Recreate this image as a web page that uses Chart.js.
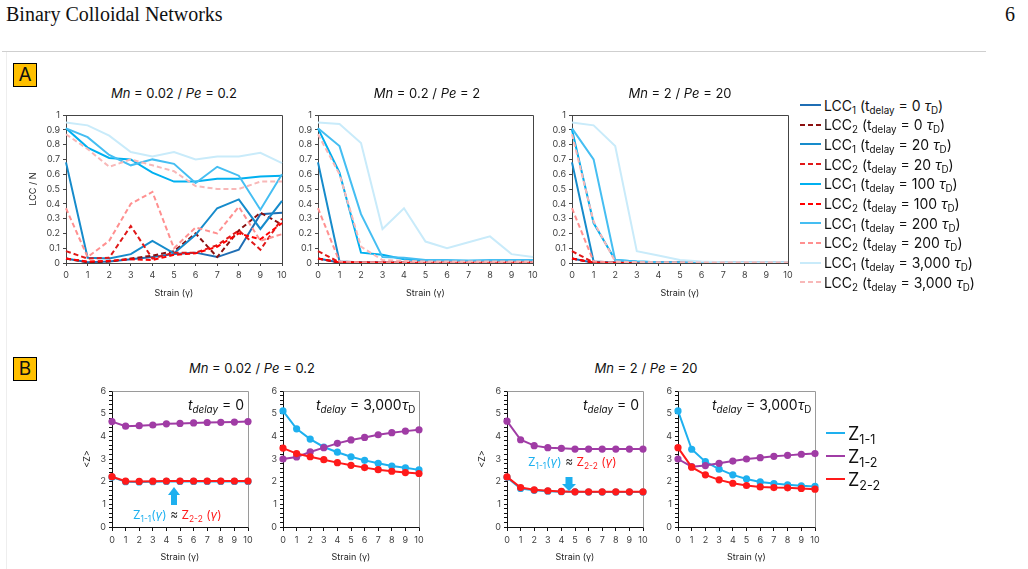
<!DOCTYPE html>
<html lang="en">
<head>
<meta charset="UTF-8">
<title>Binary Colloidal Networks</title>
<script src="https://cdn.jsdelivr.net/npm/chart.js"></script>
<style>
  html, body { margin: 0; padding: 0; background: #fff; }
  body { position: relative; width: 1028px; height: 569px; overflow: hidden;
         font-family: Inter, "Open Sans", sans-serif; color: #111; }
  .abs { position: absolute; z-index: 2; }
  .serif { font-family: "Liberation Serif", "Times New Roman", serif; font-size: 20px; line-height: 24px; }
  .tag { width: 22px; height: 22px; border: 1px solid #000; background: #FFC000;
         font-size: 19px; line-height: 22px; text-align: center; }
  .title { font-size: 13px; line-height: 16px; white-space: nowrap; transform: translateX(-50%); }
  .note { font-size: 14px; line-height: 18px; white-space: nowrap; }
  .approx { font-size: 12px; line-height: 16px; white-space: nowrap; }
  sub { font-size: 0.7em; vertical-align: -0.3em; line-height: 0; }
  .row { position: absolute; display: flex; align-items: center; white-space: nowrap; height: 20px; z-index: 2; }
  canvas { position: absolute; z-index: 1; }
</style>
</head>
<body>
<div class="abs serif" style="left:6px; top:2px">Binary Colloidal Networks</div>
<div class="abs serif" style="left:1005px; top:2px">6</div>
<div class="abs" style="left:2px; top:51px; width:984px; height:1px; background:#cfcfcf"></div>
<div class="abs" style="left:6px; top:52px; width:1px; height:517px; background:#eeeeee"></div>

<div class="abs tag" style="left:13px; top:63px">A</div>
<div class="abs tag" style="left:13px; top:357px">B</div>

<div class="abs title" style="left:174px; top:85px"><i>Mn</i> = 0.02 / <i>Pe</i> = 0.2</div>
<div class="abs title" style="left:427px; top:85px"><i>Mn</i> = 0.2 / <i>Pe</i> = 2</div>
<div class="abs title" style="left:680px; top:85px"><i>Mn</i> = 2 / <i>Pe</i> = 20</div>
<div class="abs title" style="left:252px; top:360px"><i>Mn</i> = 0.02 / <i>Pe</i> = 0.2</div>
<div class="abs title" style="left:646px; top:360px"><i>Mn</i> = 2 / <i>Pe</i> = 20</div>

<div class="abs note" style="left:188px; top:396px"><i>t</i><sub><i>delay</i></sub> = 0</div>
<div class="abs note" style="left:316px; top:396px"><i>t</i><sub><i>delay</i></sub> = 3,000<i>τ</i><sub>D</sub></div>
<div class="abs note" style="left:583px; top:396px"><i>t</i><sub><i>delay</i></sub> = 0</div>
<div class="abs note" style="left:712px; top:396px"><i>t</i><sub><i>delay</i></sub> = 3,000<i>τ</i><sub>D</sub></div>

<div class="abs approx" style="left:133px; top:507px"><span style="color:#1EB0EF">Z<sub>1-1</sub>(<i>γ</i>)</span> <span style="color:#333">≈</span> <span style="color:#FF1A1A">Z<sub>2-2</sub> (<i>γ</i>)</span></div>
<div class="abs approx" style="left:528px; top:454px"><span style="color:#1EB0EF">Z<sub>1-1</sub>(<i>γ</i>)</span> <span style="color:#333">≈</span> <span style="color:#FF1A1A">Z<sub>2-2</sub> (<i>γ</i>)</span></div>

<svg class="abs" style="left:167px; top:487px" width="14" height="19">
  <polygon points="7,0 13,8 10,8 10,18 4,18 4,8 1,8" fill="#1EB0EF"/>
</svg>
<svg class="abs" style="left:562px; top:477px" width="14" height="14">
  <polygon points="3.5,0 10.5,0 10.5,7 14,7 7,14 0,7 3.5,7" fill="#1EB0EF"/>
</svg>

<script>
// strain axis
const STRAIN = [0, 1, 2, 3, 4, 5, 6, 7, 8, 9, 10];

// Panel A, Mn = 0.02 / Pe = 0.2
const A1_LCC1_T0    = [0.03, 0.005, 0.01, 0.025, 0.04, 0.06, 0.07, 0.04, 0.09, 0.33, 0.34];
const A1_LCC2_T0    = [0.03, 0.005, 0.01, 0.03, 0.05, 0.08, 0.20, 0.04, 0.22, 0.34, 0.26];
const A1_LCC1_T20   = [0.68, 0.035, 0.03, 0.06, 0.15, 0.065, 0.19, 0.37, 0.43, 0.23, 0.42];
const A1_LCC2_T20   = [0.08, 0.03, 0.035, 0.25, 0.03, 0.07, 0.07, 0.12, 0.22, 0.09, 0.30];
const A1_LCC1_T100  = [0.91, 0.78, 0.71, 0.70, 0.61, 0.55, 0.55, 0.57, 0.57, 0.585, 0.59];
const A1_LCC2_T100  = [0.03, 0.01, 0.015, 0.025, 0.02, 0.055, 0.065, 0.11, 0.20, 0.16, 0.27];
const A1_LCC1_T200  = [0.91, 0.85, 0.73, 0.66, 0.70, 0.67, 0.54, 0.65, 0.59, 0.36, 0.60];
const A1_LCC2_T200  = [0.37, 0.04, 0.15, 0.40, 0.48, 0.10, 0.24, 0.20, 0.38, 0.15, 0.195];
const A1_LCC1_T3000 = [0.95, 0.93, 0.86, 0.75, 0.72, 0.75, 0.70, 0.72, 0.72, 0.745, 0.675];
const A1_LCC2_T3000 = [0.87, 0.77, 0.65, 0.70, 0.66, 0.62, 0.52, 0.50, 0.50, 0.55, 0.55];

// Panel A, Mn = 0.2 / Pe = 2
const A2_LCC1_T0    = [0.03, 0.003, 0.002, 0.002, 0.002, 0.002, 0.002, 0.002, 0.002, 0.002, 0.002];
const A2_LCC2_T0    = [0.03, 0.002, 0.002, 0.002, 0.002, 0.002, 0.002, 0.002, 0.002, 0.002, 0.002];
const A2_LCC1_T20   = [0.68, 0.01, 0.005, 0.005, 0.005, 0.005, 0.005, 0.005, 0.005, 0.005, 0.005];
const A2_LCC2_T20   = [0.08, 0.005, 0.004, 0.004, 0.004, 0.004, 0.004, 0.004, 0.004, 0.004, 0.004];
const A2_LCC1_T100  = [0.91, 0.61, 0.07, 0.055, 0.025, 0.015, 0.015, 0.015, 0.015, 0.015, 0.02];
const A2_LCC2_T100  = [0.03, 0.005, 0.004, 0.004, 0.004, 0.004, 0.004, 0.004, 0.004, 0.004, 0.004];
const A2_LCC1_T200  = [0.91, 0.79, 0.33, 0.04, 0.035, 0.02, 0.02, 0.015, 0.02, 0.02, 0.02];
const A2_LCC2_T200  = [0.37, 0.01, 0.005, 0.005, 0.005, 0.005, 0.005, 0.005, 0.005, 0.005, 0.005];
const A2_LCC1_T3000 = [0.95, 0.94, 0.81, 0.23, 0.37, 0.145, 0.10, 0.14, 0.18, 0.06, 0.04];
const A2_LCC2_T3000 = [0.87, 0.60, 0.11, 0.02, 0.015, 0.01, 0.01, 0.01, 0.01, 0.01, 0.01];

// Panel A, Mn = 2 / Pe = 20
const A3_LCC1_T0    = [0.03, 0.002, 0.002, 0.002, 0.002, 0.002, 0.002, 0.002, 0.002, 0.002, 0.002];
const A3_LCC2_T0    = [0.03, 0.002, 0.002, 0.002, 0.002, 0.002, 0.002, 0.002, 0.002, 0.002, 0.002];
const A3_LCC1_T20   = [0.68, 0.01, 0.003, 0.003, 0.003, 0.003, 0.003, 0.003, 0.003, 0.003, 0.003];
const A3_LCC2_T20   = [0.08, 0.003, 0.002, 0.002, 0.002, 0.002, 0.002, 0.002, 0.002, 0.002, 0.002];
const A3_LCC1_T100  = [0.90, 0.27, 0.02, 0.01, 0.005, 0.005, 0.003, 0.003, 0.003, 0.003, 0.003];
const A3_LCC2_T100  = [0.03, 0.003, 0.002, 0.002, 0.002, 0.002, 0.002, 0.002, 0.002, 0.002, 0.002];
const A3_LCC1_T200  = [0.91, 0.70, 0.02, 0.01, 0.005, 0.005, 0.003, 0.003, 0.003, 0.003, 0.003];
const A3_LCC2_T200  = [0.37, 0.01, 0.003, 0.003, 0.003, 0.003, 0.003, 0.003, 0.003, 0.003, 0.003];
const A3_LCC1_T3000 = [0.95, 0.93, 0.79, 0.08, 0.05, 0.02, 0.01, 0.005, 0.005, 0.005, 0.005];
const A3_LCC2_T3000 = [0.87, 0.28, 0.01, 0.005, 0.004, 0.004, 0.004, 0.004, 0.004, 0.004, 0.004];

// Panel B, Mn = 0.02 / Pe = 0.2
const B1_Z11 = [2.20, 2.00, 1.99, 2.00, 2.01, 2.01, 2.01, 2.01, 2.01, 2.01, 2.01];
const B1_Z12 = [4.65, 4.45, 4.47, 4.50, 4.55, 4.57, 4.59, 4.61, 4.62, 4.63, 4.65];
const B1_Z22 = [2.22, 2.02, 2.01, 2.02, 2.03, 2.03, 2.03, 2.03, 2.03, 2.03, 2.03];
const B2_Z11 = [5.12, 4.33, 3.88, 3.53, 3.30, 3.10, 2.94, 2.81, 2.69, 2.61, 2.52];
const B2_Z12 = [3.00, 3.09, 3.31, 3.50, 3.69, 3.84, 3.95, 4.07, 4.16, 4.23, 4.29];
const B2_Z22 = [3.48, 3.24, 3.10, 2.97, 2.84, 2.72, 2.62, 2.53, 2.46, 2.40, 2.36];

// Panel B, Mn = 2 / Pe = 20
const B3_Z11 = [2.19, 1.70, 1.62, 1.58, 1.56, 1.55, 1.54, 1.54, 1.54, 1.54, 1.54];
const B3_Z12 = [4.67, 3.85, 3.59, 3.50, 3.47, 3.44, 3.44, 3.44, 3.44, 3.44, 3.44];
const B3_Z22 = [2.21, 1.74, 1.64, 1.60, 1.57, 1.55, 1.55, 1.55, 1.55, 1.55, 1.55];
const B4_Z11 = [5.12, 3.43, 2.88, 2.55, 2.30, 2.12, 1.99, 1.92, 1.86, 1.82, 1.79];
const B4_Z12 = [3.00, 2.66, 2.71, 2.81, 2.91, 3.00, 3.06, 3.12, 3.16, 3.21, 3.24];
const B4_Z22 = [3.50, 2.64, 2.30, 2.08, 1.93, 1.83, 1.77, 1.74, 1.73, 1.70, 1.67];

// legend labels
const A_LABELS = [
  'LCC<sub>1</sub> (t<sub>delay</sub> = 0 <i>τ</i><sub>D</sub>)',
  'LCC<sub>2</sub> (t<sub>delay</sub> = 0 <i>τ</i><sub>D</sub>)',
  'LCC<sub>1</sub> (t<sub>delay</sub> = 20 <i>τ</i><sub>D</sub>)',
  'LCC<sub>2</sub> (t<sub>delay</sub> = 20 <i>τ</i><sub>D</sub>)',
  'LCC<sub>1</sub> (t<sub>delay</sub> = 100 <i>τ</i><sub>D</sub>)',
  'LCC<sub>2</sub> (t<sub>delay</sub> = 100 <i>τ</i><sub>D</sub>)',
  'LCC<sub>1</sub> (t<sub>delay</sub> = 200 <i>τ</i><sub>D</sub>)',
  'LCC<sub>2</sub> (t<sub>delay</sub> = 200 <i>τ</i><sub>D</sub>)',
  'LCC<sub>1</sub> (t<sub>delay</sub> = 3,000 <i>τ</i><sub>D</sub>)',
  'LCC<sub>2</sub> (t<sub>delay</sub> = 3,000 <i>τ</i><sub>D</sub>)'
];
const B_LABELS = ['Z<sub>1-1</sub>', 'Z<sub>1-2</sub>', 'Z<sub>2-2</sub>'];

// styles
const A_STYLE = [
  { color: '#1F6EB4', dash: [] },
  { color: '#8B1010', dash: [5, 3] },
  { color: '#168BCB', dash: [] },
  { color: '#E01818', dash: [5, 3] },
  { color: '#00B0F0', dash: [] },
  { color: '#FF0000', dash: [5, 3] },
  { color: '#45BEF2', dash: [] },
  { color: '#FF9090', dash: [5, 3] },
  { color: '#C9EBFA', dash: [] },
  { color: '#F8B8B8', dash: [5, 3] }
];
const B_COLORS = ['#1EB0EF', '#A03CA5', '#FF1A1A'];

const TICK_FONT = { family: 'Inter', size: 9 };
const TITLE_FONT = { family: 'Inter', size: 9 };

// box around the plot area
const framePlugin = {
  id: 'frame',
  beforeDatasetsDraw(chart, args, opts) {
    const { ctx, chartArea: a } = chart;
    ctx.save();
    ctx.strokeStyle = opts.color;
    ctx.lineWidth = 1;
    ctx.beginPath();
    const l = Math.round(a.left) + 0.5, r = Math.round(a.right) + 0.5;
    const t = Math.round(a.top) + 0.5, b = Math.round(a.bottom) + 0.5;
    ctx.moveTo(l, t); ctx.lineTo(r, t); ctx.lineTo(r, b);
    if (opts.full) { ctx.lineTo(l, b); ctx.closePath(); }
    ctx.stroke();
    ctx.restore();
  }
};

function addCanvas(left, top, w, h) {
  const c = document.createElement('canvas');
  c.width = w; c.height = h;
  c.style.left = left + 'px'; c.style.top = top + 'px';
  c.style.width = w + 'px'; c.style.height = h + 'px';
  document.body.appendChild(c);
  return c;
}

// plot area (left, right, top, bottom) -> canvas around it
function makeChart(area, datasets, o) {
  const yw = 46, xh = 40, pt = 10, pr = 12;
  const left = area[0] - yw, top = area[2] - pt;
  const w = area[1] - area[0] + yw + pr, h = area[3] - area[2] + pt + xh;
  const canvas = addCanvas(left, top, w, h);
  const lh = TITLE_FONT.size * 1.2;
  return new Chart(canvas, {
    type: 'line',
    data: { labels: STRAIN, datasets },
    options: {
      responsive: false,
      animation: false,
      devicePixelRatio: 1,
      layout: { padding: { top: pt, right: pr, left: 0, bottom: 0 } },
      plugins: {
        legend: { display: false },
        tooltip: { enabled: false },
        frame: { color: o.frameColor, full: o.fullFrame }
      },
      scales: {
        x: {
          offset: false,
          grid: { drawOnChartArea: false, tickLength: o.xTick, color: o.axisColor },
          border: { color: o.axisColor, width: 1 },
          ticks: { font: TICK_FONT, color: '#404040', padding: o.xPad, maxRotation: 0, autoSkip: false },
          title: { display: true, text: 'Strain (γ)', font: TITLE_FONT, color: '#222',
                   padding: { top: 0, bottom: 4.6 } },
          afterFit(s) { s.height = xh; }
        },
        y: {
          min: 0, max: o.yMax,
          grid: { drawOnChartArea: false, tickLength: 3, color: o.axisColor },
          border: { color: o.axisColor, width: 1 },
          ticks: { stepSize: o.yStep, maxTicksLimit: 100, autoSkip: false, font: TICK_FONT,
                   color: '#404040', padding: 3, callback: o.yFmt },
          title: { display: !!o.yTitle, text: o.yTitle || '', font: TITLE_FONT, color: '#222',
                   padding: { top: (o.yTitleX || 0) - left - lh / 2, bottom: 0 } },
          afterFit(s) { s.width = yw; }
        }
      }
    },
    plugins: [framePlugin]
  });
}

function lccSets(series) {
  return series.map((d, i) => ({
    data: d,
    borderColor: A_STYLE[i].color,
    borderDash: A_STYLE[i].dash,
    borderWidth: 2,
    pointRadius: 0,
    tension: 0,
    fill: false,
    order: series.length - i
  }));
}

function zSets(series) {
  return series.map((d, i) => ({
    data: d,
    borderColor: B_COLORS[i],
    backgroundColor: B_COLORS[i],
    pointBackgroundColor: B_COLORS[i],
    pointBorderWidth: 0,
    pointRadius: 3.6,
    borderWidth: 2,
    tension: 0,
    fill: false,
    order: series.length - i
  }));
}

const aOpts = {
  yMax: 1, yStep: 0.1, xTick: 3, xPad: 4,
  yFmt: v => String(+v.toFixed(1)),
  axisColor: '#444', frameColor: '#444', fullFrame: true
};
const bOpts = {
  yMax: 6, yStep: 0.2, xTick: 4, xPad: 4,
  yFmt: v => Math.abs(v - Math.round(v)) < 1e-6 ? String(Math.round(v)) : '',
  axisColor: '#111', frameColor: '#9a9a9a', fullFrame: false
};

makeChart([66, 282, 115, 263], lccSets([
  A1_LCC1_T0, A1_LCC2_T0, A1_LCC1_T20, A1_LCC2_T20, A1_LCC1_T100,
  A1_LCC2_T100, A1_LCC1_T200, A1_LCC2_T200, A1_LCC1_T3000, A1_LCC2_T3000
]), Object.assign({}, aOpts, { yTitle: 'LCC / N', yTitleX: 33 }));

makeChart([318, 533, 115, 263], lccSets([
  A2_LCC1_T0, A2_LCC2_T0, A2_LCC1_T20, A2_LCC2_T20, A2_LCC1_T100,
  A2_LCC2_T100, A2_LCC1_T200, A2_LCC2_T200, A2_LCC1_T3000, A2_LCC2_T3000
]), aOpts);

makeChart([572, 788, 115, 263], lccSets([
  A3_LCC1_T0, A3_LCC2_T0, A3_LCC1_T20, A3_LCC2_T20, A3_LCC1_T100,
  A3_LCC2_T100, A3_LCC1_T200, A3_LCC2_T200, A3_LCC1_T3000, A3_LCC2_T3000
]), aOpts);

makeChart([112, 248, 391, 527], zSets([B1_Z11, B1_Z12, B1_Z22]),
  Object.assign({}, bOpts, { yTitle: '<Z>', yTitleX: 87 }));
makeChart([283, 419, 391, 527], zSets([B2_Z11, B2_Z12, B2_Z22]), bOpts);
makeChart([507, 643, 391, 527], zSets([B3_Z11, B3_Z12, B3_Z22]),
  Object.assign({}, bOpts, { yTitle: '<Z>', yTitleX: 482 }));
makeChart([678, 815, 391, 527], zSets([B4_Z11, B4_Z12, B4_Z22]), bOpts);

// legends
function legendRow(left, cy, color, dash, html, lineW, fontSize, gap) {
  const row = document.createElement('div');
  row.className = 'row';
  row.style.left = left + 'px';
  row.style.top = (cy - 10) + 'px';
  row.style.fontSize = fontSize + 'px';
  const d = dash.length ? ` stroke-dasharray="${dash.join(' ')}"` : '';
  row.innerHTML = `<svg width="${lineW}" height="6" style="flex:none"><line x1="0" y1="3" x2="${lineW}" y2="3" stroke="${color}" stroke-width="2"${d}/></svg>` +
    `<span style="margin-left:${gap}px">${html}</span>`;
  document.body.appendChild(row);
}

A_LABELS.forEach((lab, i) => legendRow(800, 105 + 19.7 * i, A_STYLE[i].color, A_STYLE[i].dash, lab, 21, 14, 3));
B_LABELS.forEach((lab, i) => legendRow(826, 433 + 23 * i, B_COLORS[i], [], lab, 19, 18, 3));
</script>
</body>
</html>
